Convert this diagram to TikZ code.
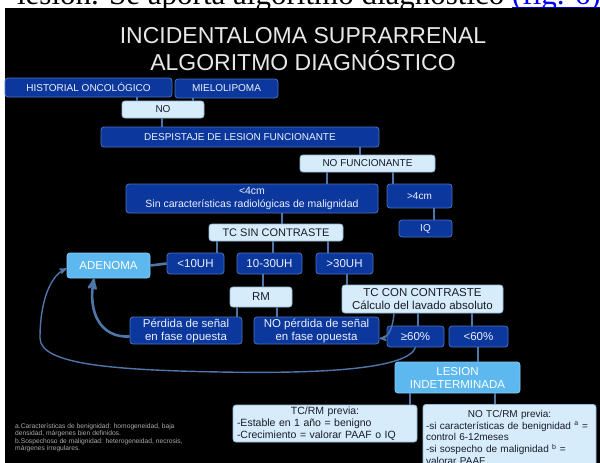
\documentclass[tikz,border=0pt]{standalone}
\usepackage{fontspec}
\setmainfont{Liberation Sans}
\newfontfamily\webserif{Liberation Serif}
\usetikzlibrary{shapes}
\usetikzlibrary{arrows}
\definecolor{boxdark}{RGB}{12,56,158}
\definecolor{linedark}{RGB}{75,115,190}
\definecolor{boxlight}{RGB}{214,236,250}
\definecolor{linelight}{RGB}{150,185,215}
\definecolor{boxsky}{RGB}{92,184,238}
\definecolor{linesky}{RGB}{140,205,245}
\definecolor{linkblue}{RGB}{78,118,168}
\definecolor{textdark}{RGB}{25,28,40}
\definecolor{textpale}{RGB}{236,240,250}
\definecolor{notegray}{RGB}{170,170,170}
\definecolor{weblink}{RGB}{0,0,238}
\newcommand{\weblinktext}[1]{\textcolor{weblink}{\setbox0\hbox{#1}\rlap{\rule[-3pt]{\wd0}{1.4pt}}\box0}}
\tikzset{
	boxnode/.style = {
		align=center,
		inner sep=0pt,
		rounded corners=3pt,
		line width=0.8pt,
		font=\fontsize{10}{12}\selectfont
	},
	node_dark/.style = {
		boxnode,
		fill=boxdark,
		draw=linedark,
		text=textpale
	},
	node_light/.style = {
		boxnode,
		fill=boxlight,
		draw=linelight,
		text=textdark
	},
	node_sky/.style = {
		boxnode,
		fill=boxsky,
		draw=linesky,
		text=white
	},
	boxsize/.style 2 args = {
		minimum width=#1pt,
		minimum height=#2pt
	},
	bigtext/.style = {
		font=\fontsize{11.5}{13}\selectfont
	},
	link/.style = {
		draw=linkblue,
		line width=1.8pt
	},
	link_arrow/.style = {
		link,
		->
	},
}

\begin{document}
\begin{tikzpicture}[x=1pt, y=-1pt, >=stealth']
\useasboundingbox (0,0) rectangle (600,463);
\clip (0,0) rectangle (600,463);
\node [anchor=base east, inner sep=0pt, font=\webserif\fontsize{31}{31}\selectfont] (n_topline) at (601,5) {lesión. Se aporta algoritmo diagnóstico \weblinktext{(fig. 6)}};
\fill [black] (5,8) rectangle (600,463);

\node [align=center, inner sep=0pt, text={rgb,255:red,232;green,232;blue,232}, font=\fontsize{23}{27}\selectfont] (n_title) at (303,49.5) {INCIDENTALOMA SUPRARRENAL\\ALGORITMO DIAGNÓSTICO};

\node [node_dark, boxsize={167}{19}] (n_hist) at (88.5,87.5) {HISTORIAL ONCOLÓGICO};
\node [node_dark, boxsize={103}{19}] (n_mielo) at (226.5,88.5) {MIELOLIPOMA};
\node [node_light, boxsize={82}{17}] (n_no) at (163,109.5) {NO};
\node [node_dark, boxsize={278}{20}] (n_desp) at (240,137) {DESPISTAJE DE LESION FUNCIONANTE};
\node [node_light, boxsize={135}{17}] (n_nofunc) at (367.5,163.5) {NO FUNCIONANTE};
\node [node_dark, boxsize={252}{29}, font=\fontsize{10.5}{13}\selectfont] (n_menor4) at (252,198.5) {<4cm\\Sin características radiológicas de malignidad};
\node [node_dark, boxsize={65}{24}] (n_mayor4) at (419.5,196) {>4cm};
\node [node_dark, boxsize={53}{17}] (n_iq) at (425.5,228.5) {IQ};
\node [node_light, boxsize={134}{17}, font=\fontsize{11}{13}\selectfont] (n_tcsin) at (276,232.5) {TC SIN CONTRASTE};
\node [node_sky, boxsize={83}{25}, bigtext] (n_adenoma) at (108.5,265.5) {ADENOMA};
\node [node_dark, boxsize={57}{21}, bigtext] (n_uh10) at (195.5,263.5) {<10UH};
\node [node_dark, boxsize={65}{21}, bigtext] (n_uh1030) at (269.5,263.5) {10-30UH};
\node [node_dark, boxsize={57}{21}, bigtext] (n_uh30) at (344.5,263.5) {>30UH};
\node [node_light, boxsize={62}{20}, bigtext] (n_rm) at (261,297) {RM};
\node [node_light, boxsize={161}{28}, bigtext] (n_tccon) at (422.5,299) {TC CON CONTRASTE\\Cálculo del lavado absoluto};
\node [node_dark, boxsize={112}{27}, bigtext] (n_perdida) at (186,330.5) {Pérdida de señal\\en fase opuesta};
\node [node_dark, boxsize={125}{27}, bigtext] (n_noperdida) at (316.5,330.5) {NO pérdida de señal\\en fase opuesta};
\node [node_dark, boxsize={57}{21}, bigtext] (n_p60mas) at (415.5,336.5) {≥60\%};
\node [node_dark, boxsize={59}{21}, bigtext] (n_p60menos) at (478.5,336.5) {<60\%};
\node [node_sky, boxsize={125}{31}, bigtext] (n_lesion) at (457.5,377.5) {LESION\\INDETERMINADA};
\node [node_light, boxsize={184}{37}, text width=176pt, align=left, font=\fontsize{10.5}{11.7}\selectfont] (n_previa) at (325,423.5) {\makebox[176pt]{TC/RM previa:}\\-Estable en 1 año = benigno\\-Crecimiento = valorar PAAF o IQ};
\node [node_light, boxsize={173}{66}, text width=167pt, align=left, font=\fontsize{10}{11.7}\selectfont, anchor=north] (n_noprevia) at (509.5,404) {\makebox[167pt]{NO TC/RM previa:}\\-si características de benignidad \textsuperscript{a} =\\control 6-12meses\\-si sospecho de malignidad \textsuperscript{b} =\\valorar PAAF};
\node [anchor=north west, align=left, inner sep=0pt, text=notegray, font=\fontsize{6.7}{7.6}\selectfont] (n_notes) at (15,423) {a.Características de benignidad: homogeneidad, baja\\densidad, márgenes bien definidos.\\b.Sospechoso de malignidad: heterogeneidad, necrosis,\\márgenes irregulares.};

\draw [link] (n_hist.south -| 137,0) -- (n_no.north -| 137,0);
\draw [link] (n_mielo.south -| 193,0) -- (n_no.north -| 193,0);
\draw [link] (n_no.south -| 162,0) -- (n_desp.north -| 162,0);
\draw [link] (n_desp.south -| 360,0) -- (n_nofunc.north -| 360,0);
\draw [link] (n_nofunc.south -| 327,0) -- (n_menor4.north -| 327,0);
\draw [link] (n_nofunc.south -| 393,0) -- (n_mayor4.north -| 393,0);
\draw [link] (n_mayor4.south -| 434,0) -- (n_iq.north -| 434,0);
\draw [link] (n_menor4.south -| 282,0) -- (n_tcsin.north -| 282,0);
\draw [link] (n_tcsin.south -| 217,0) -- (n_uh10.north -| 217,0);
\draw [link] (n_tcsin.south -| 273,0) -- (n_uh1030.north -| 273,0);
\draw [link] (n_tcsin.south -| 328,0) -- (n_uh30.north -| 328,0);
\draw [link, line width=2.6pt] (n_uh10.west) -- (n_adenoma.east);
\draw [link] (n_uh1030.south -| 263,0) -- (n_rm.north -| 263,0);
\draw [link] (n_uh30.south -| 347,0) -- (n_tccon.north -| 347,0);
\draw [link] (n_rm.south -| 237,0) -- (n_perdida.north -| 237,0);
\draw [link] (n_rm.south -| 277,0) -- (n_noperdida.north -| 277,0);
\draw [link] (n_tccon.south -| 418,0) -- (n_p60mas.north -| 418,0);
\draw [link] (n_tccon.south -| 472,0) -- (n_p60menos.north -| 472,0);
\draw [link] (n_p60menos.south -| 478,0) -- (n_lesion.north -| 478,0);
\draw [link] (n_lesion.south -| 410,0) -- (n_previa.north -| 410,0);
\draw [link] (n_lesion.south -| 495,0) -- (n_noprevia.north -| 495,0);

\draw [link_arrow, line width=2.6pt] ([yshift=-6]n_perdida.west) .. controls (100,338) and (88,312) .. (n_adenoma.south -| 94,0);
\draw [link_arrow, line width=1.4pt] (n_p60mas.south) .. controls (408,368) and (330,374) .. (220,372) .. controls (110,370) and (40,364) .. (40,338) .. controls (40,302) and (50,276) .. ([yshift=-3]n_adenoma.west);
\draw [link_arrow, line width=1.4pt] (n_tccon.south -| 394,0) .. controls (393,328) and (388,338) .. ([yshift=-8]n_noperdida.east);
\end{tikzpicture}
\end{document}
